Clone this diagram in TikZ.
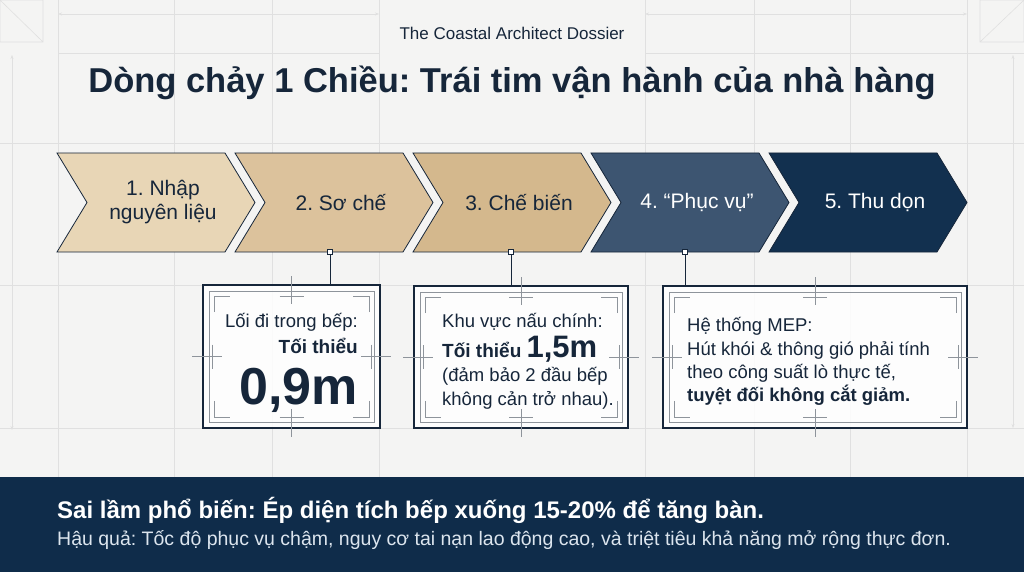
\documentclass[tikz,border=0pt]{standalone}
\usepackage{fontspec}
\setmainfont{Liberation Sans}
\usepackage{tikz}
\usetikzlibrary{arrows.meta,positioning,calc}
\frenchspacing
\definecolor{Paper}{HTML}{F4F4F3}
\definecolor{GridGray}{HTML}{E0E0E0}
\definecolor{FrameGray}{HTML}{8E949B}
\definecolor{Ink}{HTML}{16263A}
\definecolor{SandA}{HTML}{E8D6B6}
\definecolor{SandB}{HTML}{DCC29C}
\definecolor{SandC}{HTML}{D4B88D}
\definecolor{Slate}{HTML}{3D5571}
\definecolor{Navy}{HTML}{12304F}
\definecolor{Banner}{HTML}{0F2C4A}
\definecolor{Pale}{HTML}{DCE5EE}

\begin{document}
\begin{tikzpicture}[x=1pt,y=-1pt,
gridline/.style={
	draw=GridGray,
	line width=0.6pt
},
dimline/.style={
	gridline,
	{Stealth[length=4pt,width=3pt]}-{Stealth[length=4pt,width=3pt]}
},
chevron/.style={
	draw=Ink,
	line width=0.8pt
},
steplabel/.style={
	align=center,
	inner sep=0pt,
	font=\fontsize{21}{24}\selectfont
},
pin/.style={
	rectangle,
	draw=Ink,
	fill=white,
	line width=0.7pt,
	inner sep=0pt,
	minimum size=5pt
},
infobox/.style={
	rectangle,
	draw=Ink,
	line width=1.8pt,
	fill=white,
	fill opacity=0.85,
	inner sep=0pt
},
frameline/.style={
	draw=FrameGray,
	line width=0.5pt
},
boxtext/.style={
	inner sep=0pt,
	text=Ink,
	font=\fontsize{18.5}{18.5}\selectfont
},
]
\useasboundingbox (0,0) rectangle (1024,572);
\fill[Paper] (0,0) rectangle (1024,572);

% drafting grid
\foreach \x in {58,174,272,379,645,754,850,967}
	\draw[gridline] (\x,0) -- (\x,477);
\foreach \y in {143,285,428}
	\draw[gridline] (0,\y) -- (1024,\y);
\draw[gridline] (58,53) -- (379,53);
\draw[gridline] (645,53) -- (1024,53);
\draw[dimline] (58,14) -- (379,14);
\draw[dimline] (645,14) -- (967,14);
\draw[dimline] (12,55) -- (12,430);
\draw[dimline] (1013,55) -- (1013,428);
\draw[gridline] (0,0) rectangle (43,42) (0,0) -- (43,42);
\draw[gridline] (980,0) rectangle (1024,42) (980,42) -- (1024,0);

% titles
\node[inner sep=0pt, anchor=base, text=Ink, font=\fontsize{17}{17}\selectfont] (kicker) at (512,40) {The Coastal Architect Dossier};
\node[inner sep=0pt, anchor=base, text=Ink, font=\fontsize{34.5}{34.5}\selectfont\bfseries] (title) at (512,93) {Dòng chảy 1 Chiều: Trái tim vận hành của nhà hàng};

% process chevrons
\foreach \x/\col/\txt/\tcol [count=\i] in {57/SandA/{1. Nhập\\nguyên liệu}/Ink, 235/SandB/{2. Sơ chế}/Ink, 413/SandC/{3. Chế biến}/Ink, 591/Slate/{4. “Phục vụ”}/white, 769/Navy/{5. Thu dọn}/white} {
	\draw[chevron, fill=\col] (\x,153) -- ++(168,0) -- ++(30,49.5) -- ++(-30,49.5) -- ++(-168,0) -- ++(30,-49.5) -- cycle;
	\node[steplabel, text=\tcol] (s\i) at (\x+106,202.5) {\txt};
}

% info boxes
\node[infobox, minimum width=177, minimum height=143] (b1) at (291.5,356.5) {};
\node[infobox, minimum width=214, minimum height=142] (b2) at (521,357) {};
\node[infobox, minimum width=304, minimum height=142] (b3) at (815,357) {};

\foreach \b in {b1,b2,b3} {
	\draw[frameline] ($(\b.north west)+(7,7)$) rectangle ($(\b.south east)+(-7,-7)$);
	\draw[frameline] ($(\b.north west)+(12,28)$) -- ++(0,-16) -- ++(16,0);
	\draw[frameline] ($(\b.north east)+(-12,28)$) -- ++(0,-16) -- ++(-16,0);
	\draw[frameline] ($(\b.south west)+(12,-28)$) -- ++(0,16) -- ++(16,0);
	\draw[frameline] ($(\b.south east)+(-12,-28)$) -- ++(0,16) -- ++(-16,0);
	\draw[frameline] ($(\b.north)+(0,-8)$) -- ++(0,28) ($(\b.north)+(-12,12)$) -- ++(24,0);
	\draw[frameline] ($(\b.south)+(0,8)$) -- ++(0,-28) ($(\b.south)+(-12,-12)$) -- ++(24,0);
	\draw[frameline] ($(\b.west)+(-10,0)$) -- ++(30,0) ($(\b.west)+(10,-12)$) -- ++(0,24);
	\draw[frameline] ($(\b.east)+(10,0)$) -- ++(-30,0) ($(\b.east)+(-10,-12)$) -- ++(0,24);
}

% connectors
\node[pin] (p2) at (330,252) {};
\node[pin] (p3) at (511,252) {};
\node[pin] (p4) at (685,252) {};
\draw[Ink, line width=1pt] (p2) to (p2 |- b1.north);
\draw[Ink, line width=1pt] (p3) to (p3 |- b2.north);
\draw[Ink, line width=1pt] (p4) to (p4 |- b3.north);

% box texts
\node[boxtext, anchor=base east] (t1a) at (358,327) {Lối đi trong bếp:};
\node[boxtext, anchor=base east, font=\fontsize{19}{19}\selectfont\bfseries] (t1b) at (358,353) {Tối thiểu};
\node[boxtext, anchor=base east, font=\fontsize{52}{52}\selectfont\bfseries] (t1c) at (358,404) {0,9m};

\node[boxtext, anchor=base west] (t2a) at (442,327) {Khu vực nấu chính:};
\node[boxtext, anchor=base west, font=\fontsize{19}{19}\selectfont\bfseries] (t2b) at (442,357) {Tối thiểu {\fontsize{31}{31}\selectfont 1,5m}};
\node[boxtext, anchor=base west] (t2c) at (442,381) {(đảm bảo 2 đầu bếp};
\node[boxtext, anchor=base west] (t2d) at (442,405) {không cản trở nhau).};

\node[boxtext, anchor=base west] (t3a) at (687,331) {Hệ thống MEP:};
\node[boxtext, anchor=base west] (t3b) at (687,355) {Hút khói \& thông gió phải tính};
\node[boxtext, anchor=base west] (t3c) at (687,378) {theo công suất lò thực tế,};
\node[boxtext, anchor=base west, font=\fontsize{18.5}{18.5}\selectfont\bfseries] (t3d) at (687,401) {tuyệt đối không cắt giảm.};

% warning banner
\fill[Banner] (0,477) rectangle (1024,572);
\node[inner sep=0pt, anchor=base west, text=white, font=\fontsize{24}{24}\selectfont\bfseries] (warn) at (57,518) {Sai lầm phổ biến: Ép diện tích bếp xuống 15-20\% để tăng bàn.};
\node[inner sep=0pt, anchor=base west, text=Pale, font=\fontsize{19.5}{19.5}\selectfont] (result) at (57,545) {Hậu quả: Tốc độ phục vụ chậm, nguy cơ tai nạn lao động cao, và triệt tiêu khả năng mở rộng thực đơn.};

\end{tikzpicture}
\end{document}
